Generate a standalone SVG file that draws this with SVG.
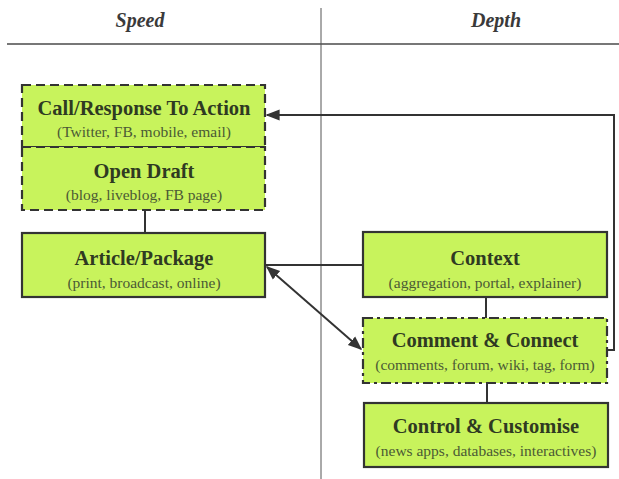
<svg xmlns="http://www.w3.org/2000/svg" width="619" height="479" viewBox="0 0 619 479">
<defs>
<style>
.box{fill:#c8f35c;stroke:#333;stroke-width:2.2}
.dash{stroke-dasharray:9 5}
.dashdot{stroke-dasharray:10 4 3 4}
.t{font-family:"Liberation Serif",serif;font-weight:bold;font-size:20.5px;fill:#2f3a22;text-anchor:middle}
.s{font-family:"Liberation Serif",serif;font-size:15.5px;fill:#4b5a35;text-anchor:middle}
.h{font-family:"Liberation Serif",serif;font-style:italic;font-weight:bold;font-size:20px;fill:#3a3a3a;text-anchor:middle}
.c{fill:none;stroke:#333;stroke-width:2}
</style>
<marker id="ah2" viewBox="0 0 10 10" refX="9" refY="5" markerWidth="14" markerHeight="14" orient="auto-start-reverse" markerUnits="userSpaceOnUse">
<path d="M0,1 L10,5 L0,9 z" fill="#333"/>
</marker>
</defs>
<rect width="619" height="479" fill="#fff"/>
<g id="header">
<line x1="7" y1="44" x2="619" y2="44" stroke="#777" stroke-width="2"/>
<line x1="321" y1="8" x2="321" y2="479" stroke="#555" stroke-width="1"/>
<text class="h" x="140" y="27">Speed</text>
<text class="h" x="496" y="27">Depth</text>
</g>
<g id="connectors">
<line class="c" x1="145" y1="210" x2="145" y2="233"/>
<line class="c" x1="363" y1="265" x2="265" y2="265"/>
<line class="c" x1="267" y1="267" x2="361" y2="349" marker-start="url(#ah2)" marker-end="url(#ah2)"/>
<polyline class="c" points="607,350 614,350 614,115 267,115" marker-end="url(#ah2)"/>
<line class="c" x1="486" y1="297" x2="486" y2="318"/>
<line class="c" x1="487" y1="383" x2="487" y2="403"/>
</g>
<g id="call">
<rect class="box dash" x="22" y="85" width="243" height="62"/>
<text class="t" x="144" y="115">Call/Response To Action</text>
<text class="s" x="144" y="137">(Twitter, FB, mobile, email)</text>
</g>
<g id="draft">
<rect class="box dash" x="22" y="147" width="243" height="63"/>
<text class="t" x="144" y="178">Open Draft</text>
<text class="s" x="144" y="200">(blog, liveblog, FB page)</text>
</g>
<g id="article">
<rect class="box" x="22" y="233" width="243" height="64"/>
<text class="t" x="144" y="265">Article/Package</text>
<text class="s" x="144" y="288">(print, broadcast, online)</text>
</g>
<g id="context">
<rect class="box" x="363" y="232" width="244" height="65"/>
<text class="t" x="485" y="265">Context</text>
<text class="s" x="485" y="288">(aggregation, portal, explainer)</text>
</g>
<g id="comment">
<rect class="box dashdot" x="363" y="318" width="244" height="65"/>
<text class="t" x="485" y="347">Comment &amp; Connect</text>
<text class="s" x="485" y="370">(comments, forum, wiki, tag, form)</text>
</g>
<g id="control">
<rect class="box" x="364" y="403" width="244" height="64"/>
<text class="t" x="486" y="433">Control &amp; Customise</text>
<text class="s" x="486" y="456">(news apps, databases, interactives)</text>
</g>
</svg>
